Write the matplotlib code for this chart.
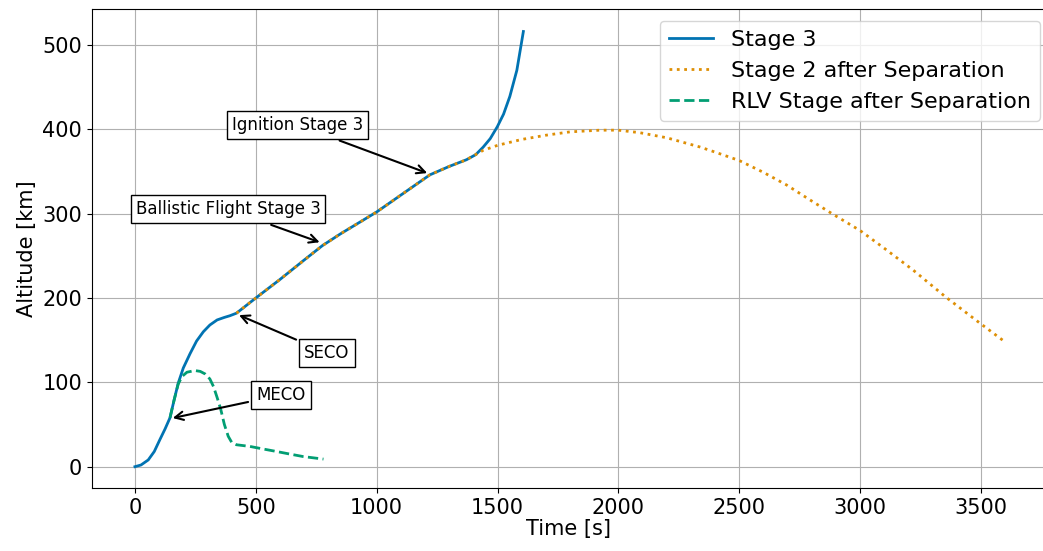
import matplotlib
matplotlib.use("Agg")
import matplotlib.pyplot as plt

# ---- data ----
stage3_t = [0, 25, 55, 80, 103, 125, 145, 162, 179, 200, 228, 255, 283, 310, 340, 370, 393, 420,
            460, 500, 600, 700, 775, 850, 925, 1000, 1100, 1220, 1300, 1372, 1410, 1441, 1470,
            1499, 1525, 1551, 1580, 1607]
stage3_alt = [0, 2, 8, 18, 32, 45, 58, 79, 99, 117, 134, 149, 160, 168, 174, 177, 179, 182,
              191, 200, 222, 245, 262, 276, 289, 302, 322, 346, 356, 364, 370, 379, 389,
              403, 418, 439, 470, 516]

stage2_t = [420, 460, 500, 600, 700, 775, 850, 925, 1000, 1100, 1220, 1300, 1372, 1440, 1500,
            1600, 1700, 1800, 1924, 2000, 2089, 2200, 2338, 2400, 2500, 2600, 2696, 2800,
            2884, 3000, 3100, 3220, 3355, 3492, 3590]
stage2_alt = [182, 191, 200, 222, 245, 262, 276, 289, 302, 322, 346, 356, 364, 375, 381,
              388, 393, 397, 399, 399, 396, 390, 379, 373, 363, 349, 334, 315,
              300, 280, 259, 233, 201, 171, 150]

rlv_t = [145, 162, 179, 195, 215, 248, 270, 290, 310, 325, 340, 355, 370, 386, 400, 420,
         476, 530, 586, 640, 696, 780]
rlv_alt = [58, 79, 98, 107, 112, 114, 113, 110, 104, 95, 82, 68, 50, 36, 29, 26,
           24, 21, 18, 15, 12, 9]

annotations = [
    ("Ignition Stage 3", (1220, 347), (674, 405)),
    ("Ballistic Flight Stage 3", (775, 265), (385, 305)),
    ("SECO", (420, 181), (794, 135)),
    ("MECO", (145, 57), (604, 85)),
]

xticks = [0, 500, 1000, 1500, 2000, 2500, 3000, 3500]
yticks = [0, 100, 200, 300, 400, 500]

c_blue = "#0173b2"
c_orange = "#de8f05"
c_green = "#029e73"

fig = plt.figure(figsize=(10.43, 5.51), dpi=100)
ax = fig.add_axes([0.0879, 0.1143, 0.9140, 0.8688])

ax.plot(stage3_t, stage3_alt, color=c_blue, lw=2, ls="-", label="Stage 3")
ax.plot(stage2_t, stage2_alt, color=c_orange, lw=2, ls=":", label="Stage 2 after Separation")
ax.plot(rlv_t, rlv_alt, color=c_green, lw=2, ls="--", label="RLV Stage after Separation")

for text, xy, xyt in annotations:
    ax.annotate(text, xy=xy, xytext=xyt, textcoords="data", fontsize=12,
                ha="center", va="center",
                bbox=dict(boxstyle="square,pad=0.3", fc="white", ec="black", lw=1),
                arrowprops=dict(arrowstyle="->", color="black", lw=1.5, mutation_scale=15))

ax.set_xlim(-179, 3765)
ax.set_ylim(-25.3, 542.3)
ax.set_xticks(xticks)
ax.set_yticks(yticks)
ax.tick_params(labelsize=15)
ax.grid(True, color="#b0b0b0", lw=0.8)
ax.set_axisbelow(True)
ax.set_xlabel("Time [s]", fontsize=15, labelpad=1)
ax.set_ylabel("Altitude [km]", fontsize=15)

ax.legend(loc="upper right", bbox_to_anchor=(1040 / 1043, 1 - 20.7 / 551),
          bbox_transform=fig.transFigure, borderaxespad=0, fontsize=16)

fig.savefig("out.png", dpi=100)
